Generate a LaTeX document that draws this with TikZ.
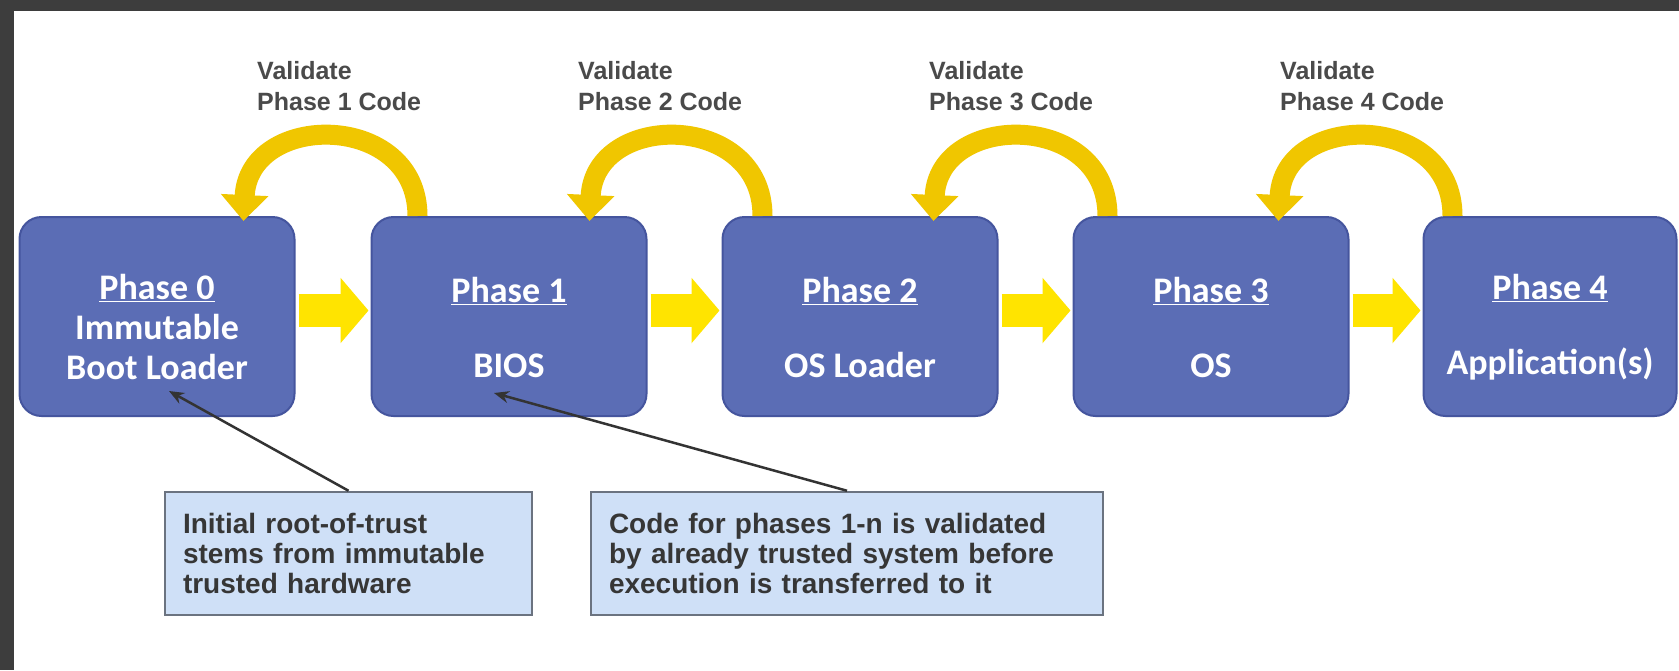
\documentclass[tikz,border=0pt]{standalone}
\usepackage{fontspec}
\setmainfont{Liberation Sans}
\newfontfamily\phasefont{Carlito}
\usetikzlibrary{arrows.meta}
\definecolor{framegray}{HTML}{3D3D3D}
\definecolor{phasefill}{HTML}{5B6DB5}
\definecolor{phaseedge}{HTML}{45559E}
\definecolor{fwdyellow}{HTML}{FFE400}
\definecolor{backyellow}{HTML}{F0C600}
\definecolor{notefill}{HTML}{CFE0F7}
\definecolor{noteedge}{HTML}{6B7380}
\definecolor{labelgray}{HTML}{4A4A4A}
\definecolor{notetext}{HTML}{363636}
\newcommand{\phasetitle}[1]{\rule{0pt}{47pt}\underline{#1}}

\begin{document}
\begin{tikzpicture}[x=1pt,y=-1pt,
  phase/.style={draw=phaseedge,line width=2pt,fill=phasefill,rounded corners=22pt,
    text=white,font=\phasefont\bfseries\fontsize{36}{40}\selectfont,align=center,
    minimum width=275pt,minimum height=199pt,inner sep=0pt},
  note/.style={draw=noteedge,line width=2.5pt,fill=notefill,text=notetext,
    font=\bfseries\fontsize{28}{30}\selectfont,align=left,minimum height=123pt,inner xsep=18pt},
  vlabel/.style={text=labelgray,font=\bfseries\fontsize{25}{31}\selectfont,align=left,inner sep=0pt,anchor=west},
  fwd/.style={draw=fwdyellow,line width=33pt,-{Triangle[width=64pt,length=28pt]},shorten <=3pt,shorten >=2pt},
  back/.style={draw=backyellow,line width=20pt,-{Triangle[width=46pt,length=26pt]}},
  pointer/.style={draw=black!80,line width=2.5pt,-{Stealth[length=15pt,width=12pt]}}]
   \useasboundingbox (0,0) rectangle (1679,670);
   \fill[framegray] (0,0) rectangle (1679,670);
   \fill[white] (14,11) rectangle (1679,670);

   \node[phase] (p0) at (157,316.5) {\phasetitle{Phase 0}\\Immutable\\Boot Loader};
   \node[phase] (p1) at (509,316.5) {\phasetitle{Phase 1}\\[35pt]BIOS};
   \node[phase] (p2) at (860,316.5) {\phasetitle{Phase 2}\\[35pt]OS Loader};
   \node[phase] (p3) at (1211,316.5) {\phasetitle{Phase 3}\\[35pt]OS};
   \node[phase,minimum width=253pt] (p4) at (1550,316.5) {\phasetitle{Phase 4}\\[35pt]Application(s)};

   \draw[fwd] ([yshift=6pt]p0.east) -- ([yshift=6pt]p1.west);
   \draw[fwd] ([yshift=6pt]p1.east) -- ([yshift=6pt]p2.west);
   \draw[fwd] ([yshift=6pt]p2.east) -- ([yshift=6pt]p3.west);
   \draw[fwd] ([yshift=6pt]p3.east) -- ([yshift=6pt]p4.west);

   \draw[back] ([xshift=47pt]p1.north west) .. controls +(0pt,105pt) and +(5pt,110pt) .. ([xshift=-52pt,yshift=-5pt]p0.north east);
   \draw[back] ([xshift=41pt]p2.north west) .. controls +(0pt,105pt) and +(5pt,110pt) .. ([xshift=-58pt,yshift=-5pt]p1.north east);
   \draw[back] ([xshift=35pt]p3.north west) .. controls +(0pt,105pt) and +(5pt,110pt) .. ([xshift=-65pt,yshift=-5pt]p2.north east);
   \draw[back] ([xshift=30pt]p4.north west) .. controls +(0pt,105pt) and +(5pt,110pt) .. ([xshift=-71pt,yshift=-5pt]p3.north east);

   \node[vlabel] (v1) at (257,86) {Validate\\Phase 1 Code};
   \node[vlabel] (v2) at (578,86) {Validate\\Phase 2 Code};
   \node[vlabel] (v3) at (929,86) {Validate\\Phase 3 Code};
   \node[vlabel] (v4) at (1280,86) {Validate\\Phase 4 Code};

   \node[note,text width=331pt] (n1) at (348.5,553.5) {Initial root-of-trust\\stems from immutable\\trusted hardware};
   \node[note,text width=476pt] (n2) at (847,553.5) {Code for phases 1-n is validated\\by already trusted system before\\execution is transferred to it};

   \draw[pointer] (n1.north) -- ([xshift=12pt,yshift=26pt]p0.south);
   \draw[pointer] (n2.north) -- ([xshift=-15pt,yshift=24pt]p1.south);
\end{tikzpicture}
\end{document}
